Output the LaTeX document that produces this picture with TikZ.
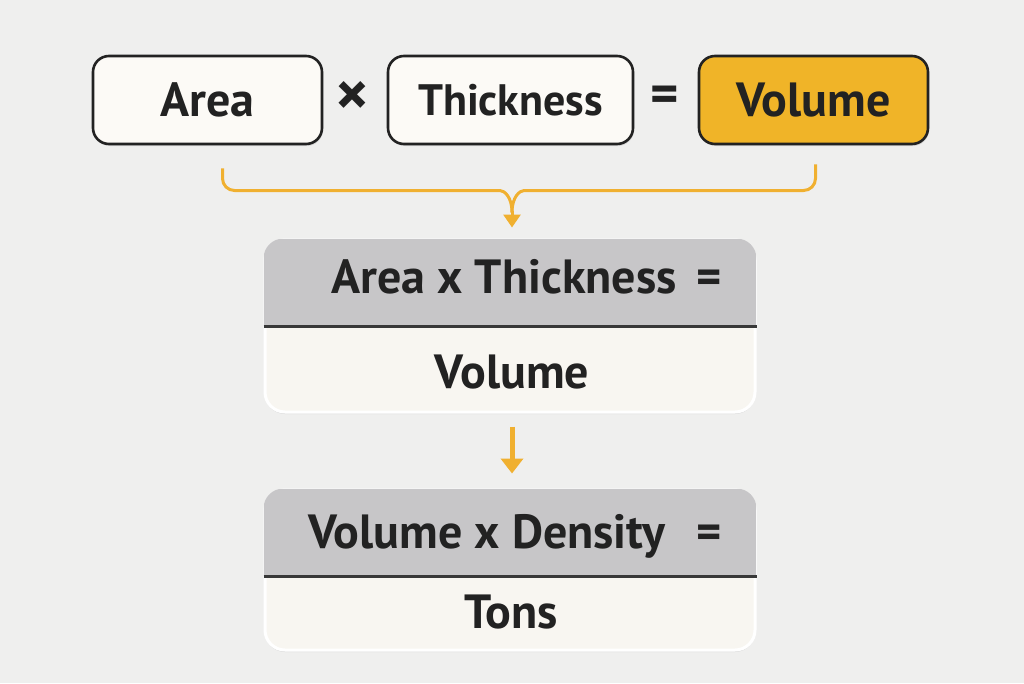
\documentclass[tikz,border=0pt]{standalone}
\usepackage{fontspec}
\setmainfont{PT Sans}
\usetikzlibrary{positioning,calc,arrows.meta,shadows}
\definecolor{bgpaper}{RGB}{239,239,238}
\definecolor{boxfill}{RGB}{252,250,246}
\definecolor{panelfill}{RGB}{248,246,241}
\definecolor{amber}{RGB}{240,180,40}
\definecolor{flowline}{RGB}{240,176,48}
\definecolor{headgray}{RGB}{199,198,200}
\definecolor{inkdark}{RGB}{34,34,34}
\newcommand\termfont{\bfseries\fontsize{48}{54}\selectfont}
\newcommand\opfont{\bfseries\fontsize{64}{70}\selectfont}
\tikzset
{
    termbox/.style = {rectangle, rounded corners=16pt, draw=inkdark, line width=2.6pt, fill=boxfill, minimum width=229pt, minimum height=88pt, font=\termfont, text=inkdark, drop shadow={shadow xshift=1pt, shadow yshift=-2pt, opacity=.2}},
    resultbox/.style = {termbox, fill=amber},
    opsign/.style = {font=\opfont, text=inkdark},
    panel/.style = {rectangle, rounded corners=20pt, draw=white, line width=3pt, fill=panelfill, minimum width=490pt, drop shadow={shadow xshift=0pt, shadow yshift=-2pt, opacity=.18}},
    paneltext/.style = {font=\termfont, text=inkdark, anchor=base},
    divider/.style = {draw=inkdark!90, line width=2.6pt},
    flow/.style = {draw=flowline, line width=3pt, rounded corners=12pt}
}
\begin{document}
\begin{tikzpicture}[x=1pt, y=-1pt]
    \fill[bgpaper] (0,0) rectangle (1024,683);
    \useasboundingbox (0,0) rectangle (1024,683);

    % top row
    \node[termbox] (area) at (207.5,100) {Area};
    \node[opsign] (times) at (352,99) {×};
    \node[termbox, minimum width=245pt, font=\bfseries\fontsize{44}{50}\selectfont] (thick) at (510.5,100) {Thickness};
    \node[opsign, font=\bfseries\fontsize{54}{60}\selectfont] (equals) at (665,99) {=};
    \node[resultbox] (volume) at (813.5,100) {Volume};

    % panels
    \node[panel, minimum height=172pt] (step1) at (510,326) {};
    \node[panel, minimum height=160pt] (step2) at (510,570) {};
    \foreach \p in {step1,step2}
    {
        \begin{scope}
            \clip[rounded corners=20pt] (\p.north west) rectangle (\p.south east);
            \fill[headgray] (\p.north west) rectangle ($(\p.north east)+(0,88)$);
        \end{scope}
        \draw[divider] ($(\p.north west)+(0,88)$) -- ($(\p.north east)+(0,88)$);
    }

    \node[paneltext] (form1) at ($(step1.north)+(-6,55)$) {Area x Thickness};
    \node[paneltext] (eq1) at ($(step1.north)+(199,55)$) {=};
    \node[paneltext] (res1) at ($(step1.north)+(2,150)$) {Volume};
    \node[paneltext] (form2) at ($(step2.north)+(-23,60)$) {Volume x Density};
    \node[paneltext] (eq2) at ($(step2.north)+(199,60)$) {=};
    \node[paneltext] (res2) at ($(step2.north)+(1,140)$) {Tons};

    % bracket into first panel
    \coordinate (brL) at ($(area.south)+(15,23)$);
    \coordinate (brR) at ($(volume.south)+(2,19)$);
    \coordinate (brM) at ($(step1.north)+(2,-48)$);
    \draw[flow] (brL) |- ($(brM)+(-24,0)$) .. controls ($(brM)+(-8,0)$) and ($(brM)+(0,6)$) .. ($(brM)+(0,22)$);
    \draw[flow] (brR) |- ($(brM)+(24,0)$) .. controls ($(brM)+(8,0)$) and ($(brM)+(0,6)$) .. ($(brM)+(0,22)$);
    \draw[flowline, line width=3pt, -{Triangle[width=17pt,length=13pt]}] ($(brM)+(0,20)$) -- ($(step1.north)+(2,-11)$);

    % second arrow
    \draw[flowline, line width=5pt, -{Triangle[width=22pt,length=15pt]}, shorten <=13pt, shorten >=15pt] ($(step1.south)+(2,0)$) -- ($(step2.north)+(2,0)$);
\end{tikzpicture}
\end{document}
